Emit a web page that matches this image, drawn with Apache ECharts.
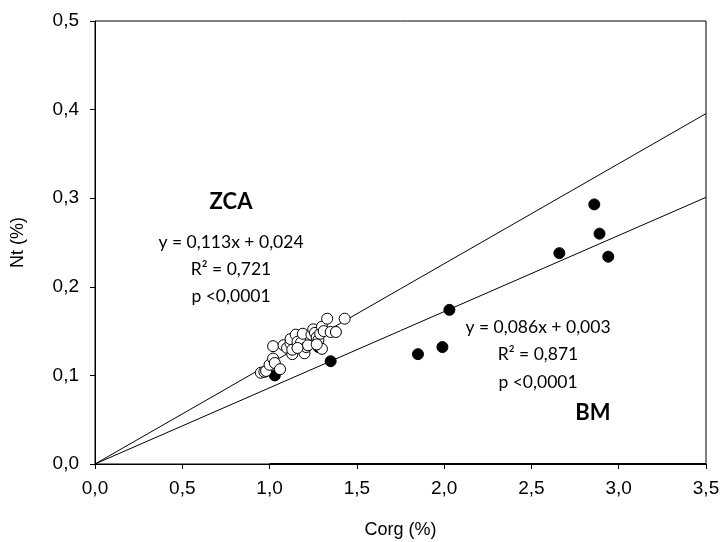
<!DOCTYPE html>
<html><head><meta charset="utf-8">
<script src="https://cdn.jsdelivr.net/npm/echarts@6/dist/echarts.min.js"></script>
<style>html,body{margin:0;padding:0;background:#fff}#c{width:726px;height:542px}</style>
</head><body><div id="c"></div>
<script>
const zcaPoints = [
 [0.95,0.103],[0.97,0.104],[0.98,0.105],[1.00,0.112],[1.02,0.119],[1.03,0.114],[1.02,0.133],
 [1.06,0.107],[1.08,0.134],[1.10,0.131],[1.12,0.136],[1.12,0.141],[1.13,0.124],[1.13,0.129],
 [1.15,0.146],[1.16,0.138],[1.18,0.137],[1.19,0.147],[1.20,0.125],[1.21,0.132],[1.22,0.134],
 [1.24,0.146],[1.25,0.152],[1.26,0.148],[1.27,0.143],[1.28,0.140],[1.29,0.147],[1.30,0.155],
 [1.30,0.130],[1.31,0.150],[1.33,0.164],[1.35,0.149],[1.38,0.149],[1.43,0.164],[1.27,0.135],[1.16,0.131]
];
const bmPoints = [
 [1.03,0.100],[1.28,0.132],[1.35,0.116],[1.85,0.124],[1.99,0.132],[2.03,0.174],
 [2.66,0.238],[2.86,0.293],[2.89,0.260],[2.94,0.234]
];
const slopes = { ZCA: 0.113, BM: 0.086 };
const xRange = [0, 3.5];
const yRange = [0, 0.5];
const xTicks = ['0,0','0,5','1,0','1,5','2,0','2,5','3,0','3,5'];
const yTicks = ['0,0','0,1','0,2','0,3','0,4','0,5'];

const chart = echarts.init(document.getElementById('c'));
const lineOf = s => [[xRange[0], 0], [xRange[1], s * xRange[1]]];
const txt = (x, y, t, size, bold) => ({
  type: 'text', x: x, y: y, z: 10,
  style: { text: t, fontSize: size, fontWeight: bold ? 'bold' : 'normal', fontFamily: 'Lato', fill: '#000', align: 'center', verticalAlign: 'middle' }
});
chart.setOption({
  animation: false,
  grid: { left: 95, right: 20, top: 21, bottom: 78, show: true, borderColor: '#000', borderWidth: 1, containLabel: false, outerBoundsMode: 'none' },
  xAxis: {
    type: 'value', min: xRange[0], max: xRange[1], interval: 0.5,
    name: 'Corg (%)', nameLocation: 'middle', nameGap: 57,
    nameTextStyle: { fontFamily: 'Liberation Sans', fontSize: 18, color: '#000' },
    axisLine: { lineStyle: { color: '#000', width: 1 } },
    axisTick: { show: true, length: 5, lineStyle: { color: '#000' } },
    axisLabel: { fontFamily: 'Liberation Sans', fontSize: 19, color: '#000', margin: 15, formatter: v => xTicks[Math.round(v / 0.5)] },
    splitLine: { show: false }
  },
  yAxis: {
    type: 'value', min: yRange[0], max: yRange[1], interval: 0.1,
    name: 'Nt (%)', nameLocation: 'middle', nameGap: 68,
    nameTextStyle: { fontFamily: 'Liberation Sans', fontSize: 18, color: '#000' },
    axisLine: { show: true, lineStyle: { color: '#000', width: 1 } },
    axisTick: { show: true, length: 5, lineStyle: { color: '#000' } },
    axisLabel: { fontFamily: 'Liberation Sans', fontSize: 19, color: '#000', margin: 16, formatter: v => yTicks[Math.round(v / 0.1)] },
    splitLine: { show: false }
  },
  series: [
    { type: 'line', data: lineOf(slopes.ZCA), symbol: 'none', lineStyle: { color: '#000', width: 1 }, z: 1 },
    { type: 'line', data: lineOf(slopes.BM), symbol: 'none', lineStyle: { color: '#000', width: 1 }, z: 1 },
    { type: 'line', data: [[1.0, 0], [3.5, 0]], symbol: 'none', clip: false, lineStyle: { color: '#000', width: 2 }, z: 5 },
    { type: 'scatter', data: bmPoints, symbol: 'circle', symbolSize: 11, itemStyle: { color: '#000', borderColor: '#000', borderWidth: 1, opacity: 1 }, z: 2 },
    { type: 'scatter', data: zcaPoints, symbol: 'circle', symbolSize: 11, itemStyle: { color: '#fff', borderColor: '#000', borderWidth: 1, opacity: 1 }, z: 3 }
  ],
  graphic: [
    txt(231, 202, 'ZCA', 22, true),
    txt(231, 242, 'y = 0,113x + 0,024', 17.5),
    txt(231, 269, 'R² = 0,721', 17.5),
    txt(231, 296, 'p <0,0001', 17.5),
    txt(538, 327, 'y = 0,086x + 0,003', 17.5),
    txt(538, 354, 'R² = 0,871', 17.5),
    txt(538, 382, 'p <0,0001', 17.5),
    txt(593, 413, 'BM', 22, true)
  ]
});
</script></body></html>
